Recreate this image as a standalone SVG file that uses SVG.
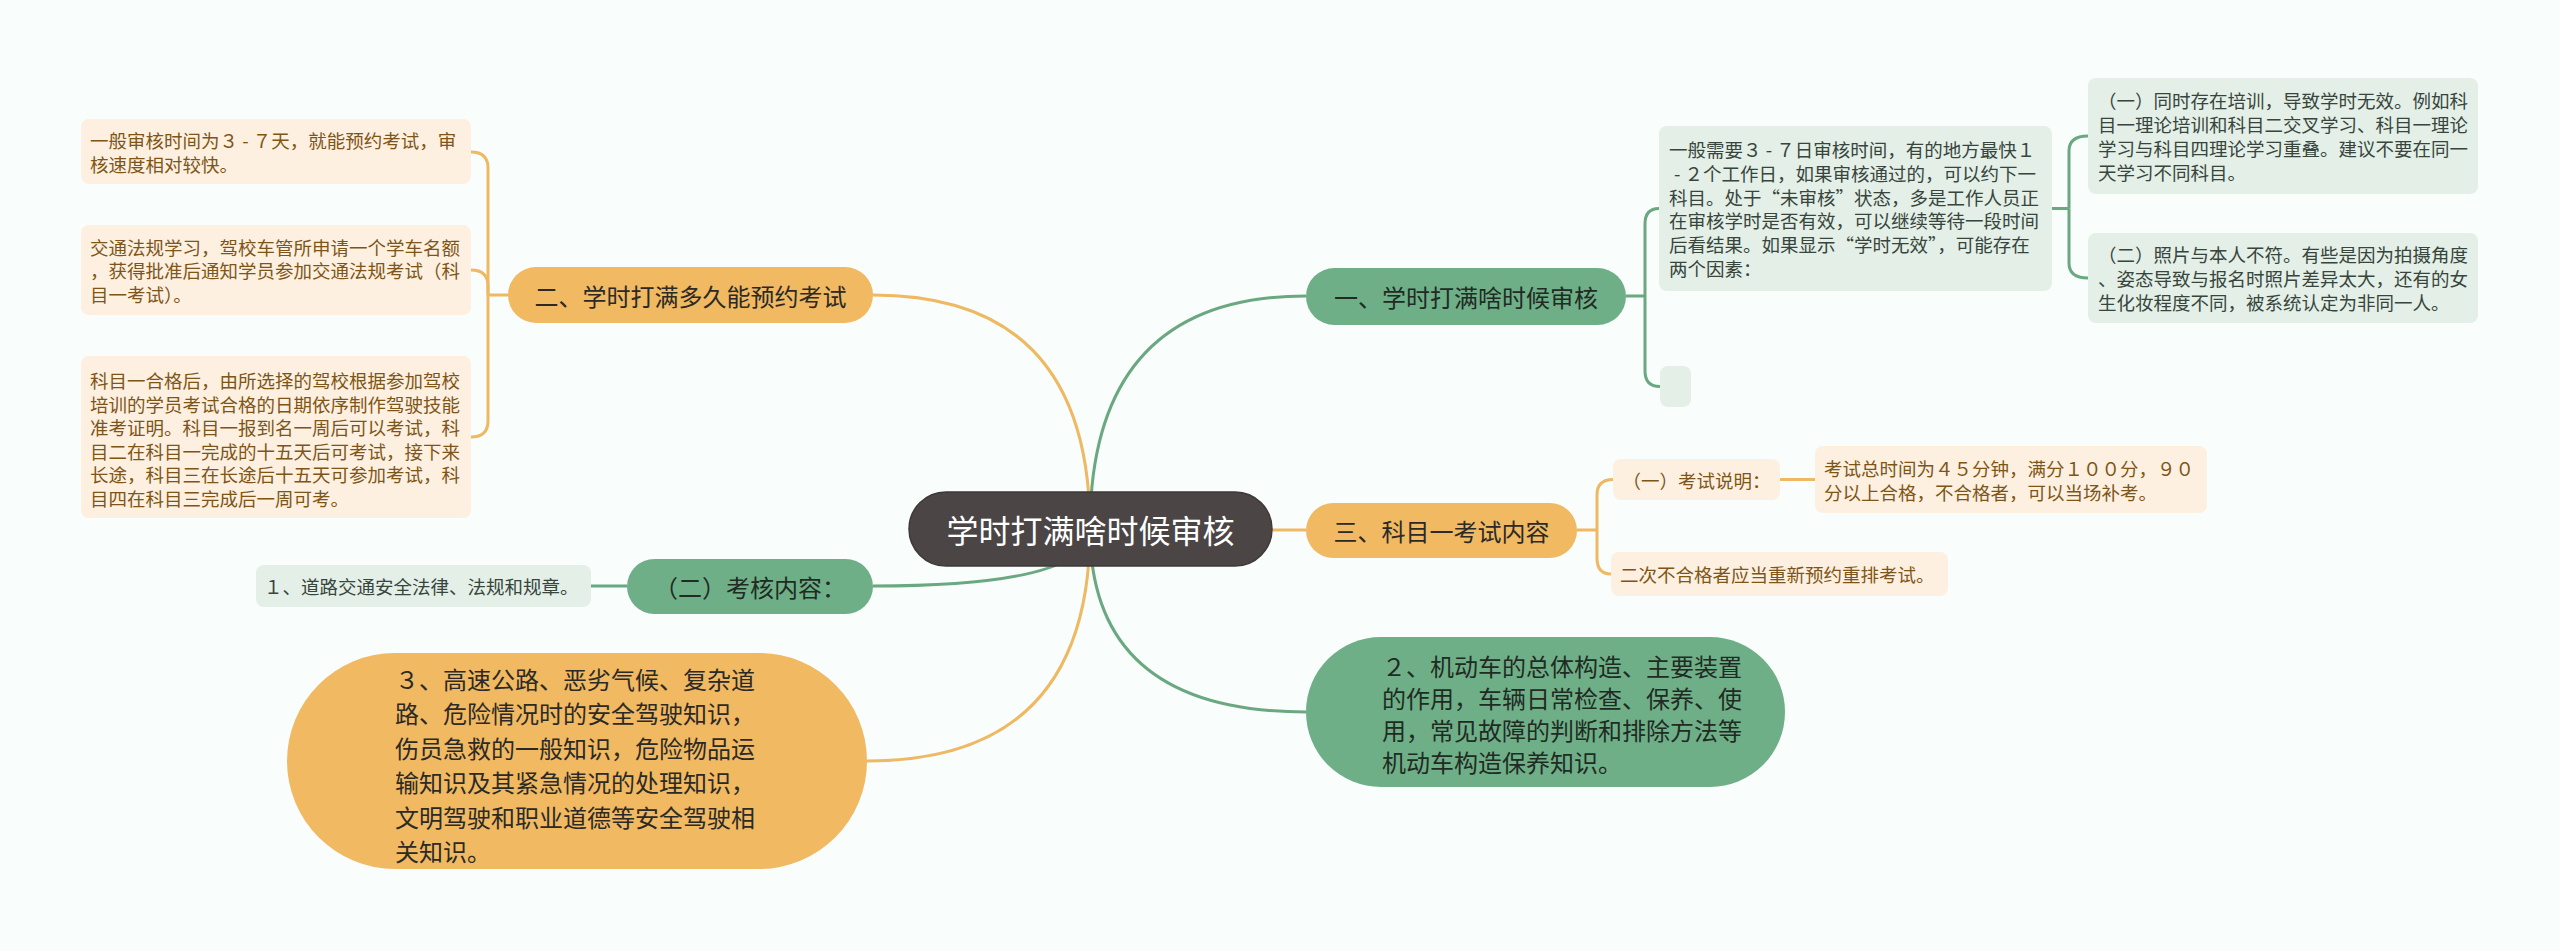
<svg xmlns="http://www.w3.org/2000/svg" width="2560" height="951" viewBox="0 0 2560 951">
<style>
text{font-family:"Noto Sans CJK SC","Noto Sans",sans-serif;dominant-baseline:central}
.co{fill:none;stroke:#eeb962;stroke-width:3}
.cg{fill:none;stroke:#6aa881;stroke-width:3}
.on{fill:#f0b962}
.gn{fill:#6faf88}
.ol{fill:#fdf0e0}
.gl{fill:#e3efe7}
.t24{font-size:24px;fill:#2c2a26}
.tg24{font-size:24px;fill:#1f2b23}
.tol{font-size:18.5px;fill:#7f5517}
.tgl{font-size:18.5px;fill:#37453c}
</style>
<rect width="2560" height="951" fill="#f9fdfb"/>
<g id="connectors">
<path class="co" d="M1090,529 Q1090,295 873,295"/>
<path class="co" d="M1090,529 Q1090,761 867,761"/>
<path class="cg" d="M1090,529 Q1090,296 1306,296"/>
<path class="cg" d="M1090,529 Q1090,586 873,586"/>
<path class="cg" d="M1090,529 Q1090,712 1306,712"/>
<path class="co" d="M1272,530 H1306"/>
<path class="co" d="M508,295 H488"/>
<path class="co" d="M488,295 V168 Q488,152 471,152"/>
<path class="co" d="M488,295 V286 Q488,270 471,270"/>
<path class="co" d="M488,295 V421 Q488,437 471,437"/>
<path class="cg" d="M627,586 H591"/>
<path class="cg" d="M1626,296 H1645"/>
<path class="cg" d="M1645,296 V224 Q1645,208.5 1659,208.5"/>
<path class="cg" d="M1645,296 V371 Q1645,386.5 1660,386.5"/>
<path class="cg" d="M2052,208.5 H2069"/>
<path class="cg" d="M2069,208.5 V151 Q2069,136 2088,136"/>
<path class="cg" d="M2069,208.5 V263 Q2069,278 2088,278"/>
<path class="co" d="M1577,530 H1597"/>
<path class="co" d="M1597,530 V495 Q1597,479.5 1613,479.5"/>
<path class="co" d="M1597,530 V558 Q1597,574 1611,574"/>
<path class="co" d="M1780,479.5 H1815"/>
</g>
<g id="root">
<rect x="909" y="492" width="363" height="74" rx="37" fill="#4b4545" stroke="#3e3939" stroke-width="1.5"/>
<text x="1090.5" y="529" text-anchor="middle" font-size="32" fill="#ffffff">学时打满啥时候审核</text>
</g>
<g id="n-yi">
<rect class="gn" x="1306" y="268" width="320" height="57" rx="28.5"/>
<text class="tg24" x="1466" y="296.5" text-anchor="middle">一、学时打满啥时候审核</text>
</g>
<g id="n-yi-leaf">
<rect class="gl" x="1659" y="126" width="393" height="165" rx="8"/>
<text class="tgl" x="1669" y="149">一般需要３ - ７日审核时间，有的地方最快１</text>
<text class="tgl" x="1674" y="172.8">- ２个工作日，如果审核通过的，可以约下一</text>
<text class="tgl" x="1669" y="196.6">科目。处于“未审核”状态，多是工作人员正</text>
<text class="tgl" x="1669" y="220.4">在审核学时是否有效，可以继续等待一段时间</text>
<text class="tgl" x="1669" y="244.2">后看结果。如果显示“学时无效”，可能存在</text>
<text class="tgl" x="1669" y="268">两个因素：</text>
</g>
<g id="n-yi-empty">
<rect class="gl" x="1660" y="366" width="31" height="41" rx="8"/>
</g>
<g id="n-yi-1">
<rect class="gl" x="2088" y="78" width="390" height="116" rx="8"/>
<text class="tgl" x="2098" y="100.3">（一）同时存在培训，导致学时无效。例如科</text>
<text class="tgl" x="2098" y="124.1">目一理论培训和科目二交叉学习、科目一理论</text>
<text class="tgl" x="2098" y="147.9">学习与科目四理论学习重叠。建议不要在同一</text>
<text class="tgl" x="2098" y="171.7">天学习不同科目。</text>
</g>
<g id="n-yi-2">
<rect class="gl" x="2088" y="233" width="390" height="90" rx="8"/>
<text class="tgl" x="2098" y="254.2">（二）照片与本人不符。有些是因为拍摄角度</text>
<text class="tgl" x="2098" y="278">、姿态导致与报名时照片差异太大，还有的女</text>
<text class="tgl" x="2098" y="301.8">生化妆程度不同，被系统认定为非同一人。</text>
</g>
<g id="n-san">
<rect class="on" x="1306" y="503" width="271" height="55" rx="27.5"/>
<text class="t24" x="1441.5" y="530.5" text-anchor="middle">三、科目一考试内容</text>
</g>
<g id="n-san-1">
<rect class="ol" x="1613" y="459" width="167" height="41" rx="8"/>
<text class="tol" x="1696.5" y="479.5" text-anchor="middle">（一）考试说明：</text>
</g>
<g id="n-san-1-1">
<rect class="ol" x="1815" y="446" width="392" height="67" rx="8"/>
<text class="tol" x="1824" y="468">考试总时间为４５分钟，满分１００分，９０</text>
<text class="tol" x="1824" y="491.5">分以上合格，不合格者，可以当场补考。</text>
</g>
<g id="n-san-2">
<rect class="ol" x="1611" y="552" width="337" height="44" rx="8"/>
<text class="tol" x="1620" y="574">二次不合格者应当重新预约重排考试。</text>
</g>
<g id="n-jidongche">
<rect class="gn" x="1306" y="637" width="479" height="150" rx="75"/>
<text class="tg24" x="1382" y="665">２、机动车的总体构造、主要装置</text>
<text class="tg24" x="1382" y="697">的作用，车辆日常检查、保养、使</text>
<text class="tg24" x="1382" y="729">用，常见故障的判断和排除方法等</text>
<text class="tg24" x="1382" y="761">机动车构造保养知识。</text>
</g>
<g id="n-er">
<rect class="on" x="508" y="267" width="365" height="56" rx="28"/>
<text class="t24" x="690.5" y="295.5" text-anchor="middle">二、学时打满多久能预约考试</text>
</g>
<g id="n-er-1">
<rect class="ol" x="81" y="119" width="390" height="65" rx="8"/>
<text class="tol" x="90" y="140">一般审核时间为３ - ７天，就能预约考试，审</text>
<text class="tol" x="90" y="163.5">核速度相对较快。</text>
</g>
<g id="n-er-2">
<rect class="ol" x="81" y="225" width="390" height="90" rx="8"/>
<text class="tol" x="90" y="246.5">交通法规学习，驾校车管所申请一个学车名额</text>
<text class="tol" x="90" y="270">，获得批准后通知学员参加交通法规考试（科</text>
<text class="tol" x="90" y="293.5">目一考试）。</text>
</g>
<g id="n-er-3">
<rect class="ol" x="81" y="356" width="390" height="162" rx="8"/>
<text class="tol" x="90" y="380">科目一合格后，由所选择的驾校根据参加驾校</text>
<text class="tol" x="90" y="403.5">培训的学员考试合格的日期依序制作驾驶技能</text>
<text class="tol" x="90" y="427">准考证明。科目一报到名一周后可以考试，科</text>
<text class="tol" x="90" y="450.5">目二在科目一完成的十五天后可考试，接下来</text>
<text class="tol" x="90" y="474">长途，科目三在长途后十五天可参加考试，科</text>
<text class="tol" x="90" y="497.5">目四在科目三完成后一周可考。</text>
</g>
<g id="n-kaohe">
<rect class="gn" x="627" y="559" width="246" height="55" rx="27.5"/>
<text class="tg24" x="750" y="586.5" text-anchor="middle">（二）考核内容：</text>
</g>
<g id="n-kaohe-1">
<rect class="gl" x="256" y="565" width="335" height="42" rx="8"/>
<text class="tgl" x="264" y="586">１、道路交通安全法律、法规和规章。</text>
</g>
<g id="n-gaosu">
<rect class="on" x="287" y="653" width="580" height="216" rx="108"/>
<text class="t24" x="395" y="678">３、高速公路、恶劣气候、复杂道</text>
<text class="t24" x="395" y="712.5">路、危险情况时的安全驾驶知识，</text>
<text class="t24" x="395" y="747">伤员急救的一般知识，危险物品运</text>
<text class="t24" x="395" y="781.5">输知识及其紧急情况的处理知识，</text>
<text class="t24" x="395" y="816">文明驾驶和职业道德等安全驾驶相</text>
<text class="t24" x="395" y="850.5">关知识。</text>
</g>
</svg>
